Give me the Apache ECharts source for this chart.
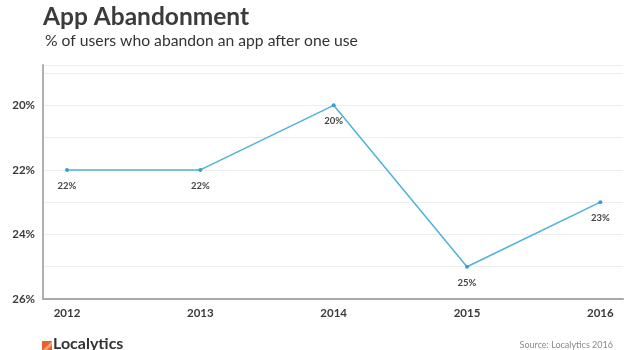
<!DOCTYPE html>
<html>
<head>
<meta charset="utf-8">
<script src="https://cdn.jsdelivr.net/npm/echarts@6/dist/echarts.min.js"></script>
<style>
html,body{margin:0;padding:0;background:#fff;}
#c{width:633px;height:350px;}
</style>
</head>
<body>
<div id="c"></div>
<script>
var years = [2012, 2013, 2014, 2015, 2016];
var abandonPct = [22, 22, 20, 25, 23];
var yTickLabels = [20, 22, 24, 26];

var chart = echarts.init(document.getElementById('c'), null, {renderer: 'canvas'});
var font = 'Lato, "Open Sans", sans-serif';
chart.setOption({
  backgroundColor: '#ffffff',
  animation: false,
  title: [
    {text: 'App Abandonment', left: 38, top: 0,
     textStyle: {fontFamily: font, fontWeight: 'bold', fontSize: 24.5, color: '#3b3b3b'}},
    {text: '% of users who abandon an app after one use', left: 40, top: 28,
     textStyle: {fontFamily: font, fontWeight: 'normal', fontSize: 15.7, color: '#333333'}}
  ],
  grid: {left: 43, right: 10, top: 65, bottom: 51},
  xAxis: {
    type: 'value',
    min: 2011.82,
    max: 2016.17,
    splitNumber: 5,
    axisLine: {show: true, lineStyle: {color: '#a9a9a9', width: 2}},
    axisTick: {show: false},
    splitLine: {show: false},
    axisLabel: {
      showMinLabel: false, showMaxLabel: false,
      margin: 8,
      fontFamily: font, fontWeight: 'bold', fontSize: 11.5, color: '#3a3a3a',
      formatter: function (v) { return years.indexOf(v) >= 0 ? String(v) : ''; }
    }
  },
  yAxis: {
    type: 'value',
    inverse: true,
    min: 18.75,
    max: 26,
    splitNumber: 7,
    axisLine: {show: true, lineStyle: {color: '#b0b0b0', width: 2}},
    axisTick: {show: false},
    splitLine: {show: true, lineStyle: {color: '#eeeeee', width: 1}},
    axisLabel: {
      showMinLabel: false,
      margin: 8,
      fontFamily: font, fontWeight: 'bold', fontSize: 11.5, color: '#3a3a3a',
      formatter: function (v) { return yTickLabels.indexOf(v) >= 0 ? v + '%' : ''; }
    }
  },
  series: [{
    type: 'line',
    data: years.map(function (y, i) { return [y, abandonPct[i]]; }),
    symbol: 'circle',
    symbolSize: 4,
    lineStyle: {color: '#4db3d8', width: 1.5},
    itemStyle: {color: '#3a9fcc'},
    label: {
      show: true, position: 'bottom', distance: 9,
      fontFamily: font, fontWeight: 'bold', fontSize: 9.5, color: '#444444',
      formatter: function (p) { return p.value[1] + '%'; }
    }
  }],
  graphic: [
    {type: 'rect', left: 42, top: 341, shape: {width: 10, height: 10}, style: {fill: '#e8622d'}},
    {type: 'polygon', shape: {points: [[52, 341], [52, 345], [46, 351], [42, 351]]}, style: {fill: '#f3a27c'}},
    {type: 'text', left: 53, top: 336, style: {text: 'Localytics', font: 'bold 16px ' + font, fill: '#333333'}},
    {type: 'text', right: 20, top: 341, style: {text: 'Source: Localytics 2016', font: '9px ' + font, fill: '#8a8a8a'}}
  ]
});
</script>
</body>
</html>
